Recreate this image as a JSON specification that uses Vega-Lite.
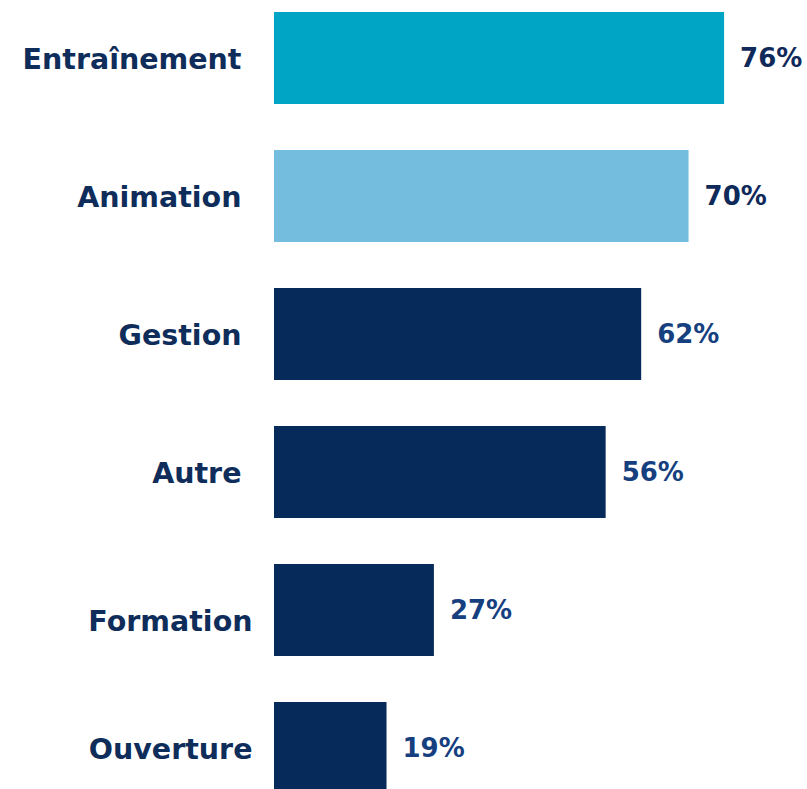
{
  "$schema": "https://vega.github.io/schema/vega-lite/v6.json",
  "autosize": "none",
  "width": 533,
  "height": 777,
  "padding": {"left": 274, "top": 12, "right": 0, "bottom": 0},
  "background": "white",
  "data": {"values": [
    {"category": "Entraînement", "value": 0.76, "group": "a"},
    {"category": "Animation", "value": 0.70, "group": "b"},
    {"category": "Gestion", "value": 0.62, "group": "c"},
    {"category": "Autre", "value": 0.56, "group": "c"},
    {"category": "Formation", "value": 0.27, "group": "c"},
    {"category": "Ouverture", "value": 0.19, "group": "c"}
  ]},
  "config": {"view": {"stroke": null}},
  "encoding": {
    "y": {
      "field": "category", "type": "nominal", "sort": null,
      "scale": {"range": [0, 782], "paddingInner": 0.333, "paddingOuter": 0},
      "axis": {
        "title": null, "domain": false, "ticks": false, "grid": false,
        "labelFont": "DejaVu Sans", "labelFontWeight": "bold", "labelFontSize": 28.5,
        "labelColor": "#0f2d5a", "labelLimit": 400,
        "labelPadding": {"condition": {"test": "datum.value === 'Formation' || datum.value === 'Ouverture'", "value": 22}, "value": 33},
        "labelOffset": {"condition": {"test": "datum.value === 'Formation'", "value": 12}, "value": 2}
      }
    },
    "x": {
      "field": "value", "type": "quantitative",
      "scale": {"domain": [0, 0.9], "nice": false, "zero": true},
      "axis": null
    }
  },
  "layer": [
    {
      "mark": {"type": "bar", "clip": true},
      "encoding": {
        "color": {
          "field": "group", "type": "nominal", "legend": null,
          "scale": {"domain": ["a", "b", "c"], "range": ["#00a5c6", "#74bddf", "#062a59"]}
        }
      }
    },
    {
      "mark": {"type": "text", "align": "left", "baseline": "middle", "dx": 16, "dy": 1, "font": "DejaVu Sans", "fontWeight": "bold", "fontSize": 26},
      "encoding": {
        "text": {"field": "value", "type": "quantitative", "format": ".0%"},
        "color": {
          "condition": {"test": "datum.group === 'c'", "value": "#163f80"},
          "value": "#0f2a5a"
        }
      }
    }
  ]
}
